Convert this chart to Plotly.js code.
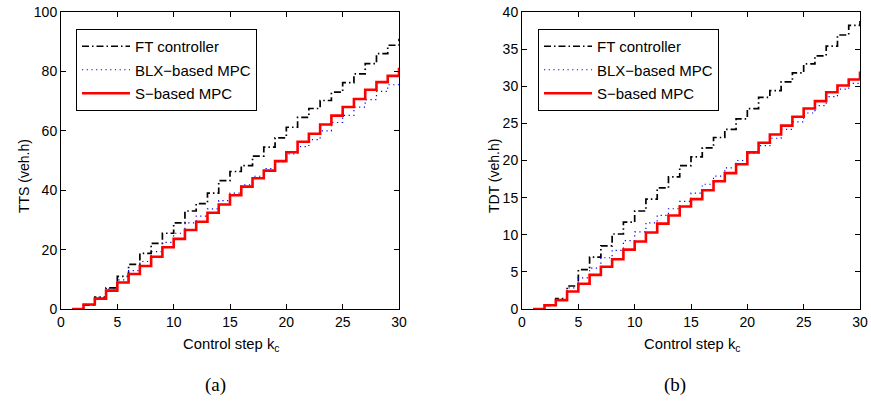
<!DOCTYPE html>
<html>
<head>
<meta charset="utf-8">
<script src="https://cdn.plot.ly/plotly-3.0.1.min.js"></script>
<style>html,body{margin:0;padding:0;background:#fff;}#chart{width:871px;height:401px;}</style>
</head>
<body>
<div id="chart"></div>
<script>
// Control steps
const steps = [1,2,3,4,5,6,7,8,9,10,11,12,13,14,15,16,17,18,19,20,21,22,23,24,25,26,27,28,29,30];

// (a) TTS (veh.h)
const ttsFT  = [0,1.3,4.0,7.1,11.0,15.0,18.7,22.1,25.5,29.0,33.0,35.5,39.0,43.2,46.3,48.3,51.5,54.5,57.6,61.2,64.5,67.5,70.2,73.0,76.2,79.2,82.6,86.0,88.8,91.0];
const ttsBLX = [0,1.5,3.9,6.8,9.8,12.9,16.0,19.3,22.4,25.5,29.0,31.3,33.7,36.5,39.0,41.8,44.7,47.3,49.5,52.2,54.7,57.0,60.0,62.8,65.2,68.0,70.5,73.3,75.5,76.5];
const ttsS   = [0,1.5,3.5,6.2,8.9,11.8,14.5,17.6,20.8,23.6,26.6,29.4,32.4,35.2,38.3,41.2,44.0,46.6,49.8,52.8,56.3,59.0,62.1,65.1,68.0,70.7,73.8,76.4,78.5,81.2];

// (b) TDT (veh.h)
const tdtFT  = [0,0.5,1.4,3.1,5.3,7.0,8.5,10.1,11.7,13.2,14.8,16.3,17.8,19.3,20.5,21.7,23.1,24.2,25.6,27.0,28.5,29.4,30.6,31.8,33.0,34.1,35.4,36.9,38.2,38.8];
const tdtBLX = [0,0.5,1.3,2.85,4.2,5.5,6.9,7.9,9.2,10.4,11.6,12.6,13.5,14.5,15.6,16.8,17.9,19.0,20.0,21.0,22.0,23.0,24.2,25.2,26.4,27.4,28.6,29.6,30.4,30.6];
const tdtS   = [0,0.5,1.2,2.35,3.4,4.6,5.7,6.7,8.0,9.1,10.3,11.5,12.6,13.8,14.8,16.0,17.2,18.3,19.5,21.1,22.4,23.5,24.7,25.9,27.0,28.0,29.2,30.1,30.9,32.0];

const seriesNames = ['FT controller','BLX\u2212based MPC','S\u2212based MPC'];
const xTicks = [0,5,10,15,20,25,30];
const ttsTicks = [0,20,40,60,80,100];
const tdtTicks = [0,5,10,15,20,25,30,35,40];

const FONT = 'Liberation Sans, Arial, Helvetica, sans-serif';
const styles = [
  {color:'#000000', width:1.7, dash:'7px,3px,1.5px,3px'},
  {color:'#0000ff', width:1.2, dash:'1.2px,3.5px'},
  {color:'#ff0000', width:2.6, dash:'solid'}
];

function mk(y, i, xa, ya, lg){
  return {x: steps, y: y, type:'scatter', mode:'lines', name: seriesNames[i],
    line:{shape:'hv', color:styles[i].color, width:styles[i].width, dash:styles[i].dash},
    xaxis:xa, yaxis:ya, legend:lg, legendgroup: lg + i, hoverinfo:'skip'};
}

const data = [
  mk(ttsFT,0,'x','y','legend'), mk(ttsBLX,1,'x','y','legend'), mk(ttsS,2,'x','y','legend'),
  mk(tdtFT,0,'x2','y2','legend2'), mk(tdtBLX,1,'x2','y2','legend2'), mk(tdtS,2,'x2','y2','legend2')
];

const axBase = {
  showline:true, linecolor:'#000', linewidth:1, mirror:'ticks', ticks:'inside', ticklen:5,
  tickcolor:'#000', showgrid:false, zeroline:false, fixedrange:true,
  tickfont:{family:FONT, size:14, color:'#000'}
};
const yDom = [92/401, 389/401];

const legBase = {
  bgcolor:'#fff', bordercolor:'#000', borderwidth:1,
  font:{family:FONT, size:15, color:'#000'}, xanchor:'left', yanchor:'top',
  tracegroupgap:1, itemwidth:48
};

const layout = {
  width:871, height:401, margin:{l:0,r:0,t:0,b:0},
  paper_bgcolor:'#fff', plot_bgcolor:'#fff', showlegend:true,
  xaxis: Object.assign({}, axBase, {domain:[61/871, 399/871], range:[0,30], tickvals:xTicks, anchor:'y'}),
  yaxis: Object.assign({}, axBase, {domain:yDom, range:[0,100], tickvals:ttsTicks, anchor:'x'}),
  xaxis2: Object.assign({}, axBase, {domain:[522/871, 860/871], range:[0,30], tickvals:xTicks, anchor:'y2'}),
  yaxis2: Object.assign({}, axBase, {domain:yDom, range:[0,40], tickvals:tdtTicks, anchor:'x2'}),
  legend: Object.assign({}, legBase, {x:76/871, y:1-29/401}),
  legend2: Object.assign({}, legBase, {x:538/871, y:1-29/401}),
  annotations: [
    {text:'Control step k<sub>c</sub>', xref:'paper', yref:'paper', x:231/871, y:1-345/401, showarrow:false, xanchor:'center', yanchor:'middle', font:{family:FONT,size:14.8,color:'#000'}},
    {text:'Control step k<sub>c</sub>', xref:'paper', yref:'paper', x:692/871, y:1-345/401, showarrow:false, xanchor:'center', yanchor:'middle', font:{family:FONT,size:14.8,color:'#000'}},
    {text:'TTS (veh.h)', xref:'paper', yref:'paper', x:24/871, y:1-176/401, showarrow:false, textangle:-90, xanchor:'center', yanchor:'middle', font:{family:FONT,size:14,color:'#000'}},
    {text:'TDT (veh.h)', xref:'paper', yref:'paper', x:494/871, y:1-176/401, showarrow:false, textangle:-90, xanchor:'center', yanchor:'middle', font:{family:FONT,size:14,color:'#000'}},
    {text:'(a)', xref:'paper', yref:'paper', x:215/871, y:1-385/401, showarrow:false, xanchor:'center', yanchor:'middle', font:{family:'Liberation Serif, Times New Roman, serif',size:19,color:'#000'}},
    {text:'(b)', xref:'paper', yref:'paper', x:675/871, y:1-385/401, showarrow:false, xanchor:'center', yanchor:'middle', font:{family:'Liberation Serif, Times New Roman, serif',size:19,color:'#000'}}
  ]
};

Plotly.newPlot('chart', data, layout, {staticPlot:true, displayModeBar:false});
</script>
</body>
</html>
